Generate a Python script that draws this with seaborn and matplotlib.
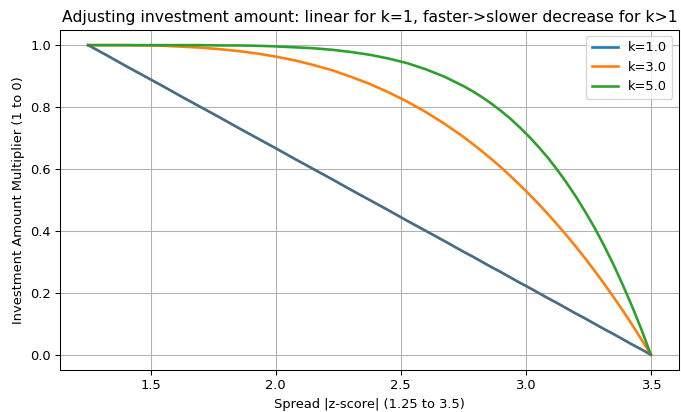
import matplotlib
matplotlib.use("Agg")
import matplotlib.pyplot as plt
import seaborn as sns
import pandas as pd

x_vals = [1.25, 1.325, 1.4, 1.475, 1.55, 1.625, 1.7, 1.775, 1.85, 1.925,
          2.0, 2.075, 2.15, 2.225, 2.3, 2.375, 2.45, 2.525, 2.6, 2.675,
          2.75, 2.7875, 2.825, 2.8625, 2.9, 2.9375, 2.975, 3.0125, 3.05, 3.0875,
          3.125, 3.1625, 3.2, 3.2375, 3.275, 3.3125, 3.35, 3.3875, 3.425, 3.4625, 3.5]
k1_vals = [1.000, 0.967, 0.933, 0.900, 0.867, 0.833, 0.800, 0.767, 0.733, 0.700,
           0.667, 0.633, 0.600, 0.567, 0.533, 0.500, 0.467, 0.433, 0.400, 0.367,
           0.333, 0.317, 0.300, 0.283, 0.267, 0.250, 0.233, 0.217, 0.200, 0.183,
           0.167, 0.150, 0.133, 0.117, 0.100, 0.083, 0.067, 0.050, 0.033, 0.017, 0.000]
k3_vals = [1.000, 1.000, 1.000, 0.999, 0.998, 0.995, 0.992, 0.987, 0.981, 0.973,
           0.963, 0.951, 0.936, 0.919, 0.898, 0.875, 0.848, 0.818, 0.784, 0.746,
           0.704, 0.681, 0.657, 0.632, 0.606, 0.578, 0.549, 0.519, 0.488, 0.455,
           0.421, 0.386, 0.349, 0.311, 0.271, 0.230, 0.187, 0.143, 0.097, 0.049, 0.000]
k5_vals = [1.000, 1.000, 1.000, 1.000, 1.000, 1.000, 1.000, 0.999, 0.999, 0.998,
           0.996, 0.993, 0.990, 0.985, 0.978, 0.969, 0.957, 0.942, 0.922, 0.898,
           0.868, 0.851, 0.832, 0.811, 0.788, 0.763, 0.735, 0.705, 0.672, 0.637,
           0.598, 0.556, 0.511, 0.462, 0.410, 0.353, 0.292, 0.226, 0.156, 0.081, 0.000]
series_labels = ["k=1.0", "k=3.0", "k=5.0"]

n = len(x_vals)
df = pd.DataFrame({
    "x": x_vals * 3,
    "y": k1_vals + k3_vals + k5_vals,
    "k": [series_labels[0]] * n + [series_labels[1]] * n + [series_labels[2]] * n,
})

DPI = 94
fig, ax = plt.subplots(figsize=(681 / DPI, 412 / DPI), dpi=DPI)
colors = ["#1f77b4", "#ff7f0e", "#2ca02c"]
sns.lineplot(data=df, x="x", y="y", hue="k", palette=colors, linewidth=2, ax=ax)
# grey overlay seen on the linear line
sns.lineplot(x=x_vals, y=k1_vals, color="#666666", linewidth=1.6, alpha=0.75, ax=ax, legend=False)

ax.grid(True)
ax.set_title("Adjusting investment amount: linear for k=1, faster->slower decrease for k>1")
ax.set_xlabel("Spread |z-score| (1.25 to 3.5)")
ax.set_ylabel("Investment Amount Multiplier (1 to 0)")
ax.legend(loc="upper right")
ax.set_xlim(1.1375, 3.6125)
ax.set_ylim(-0.05, 1.05)

fig.subplots_adjust(left=60 / 681, right=679 / 681, top=0.928, bottom=0.1015)
fig.savefig("out.png", dpi=DPI)
